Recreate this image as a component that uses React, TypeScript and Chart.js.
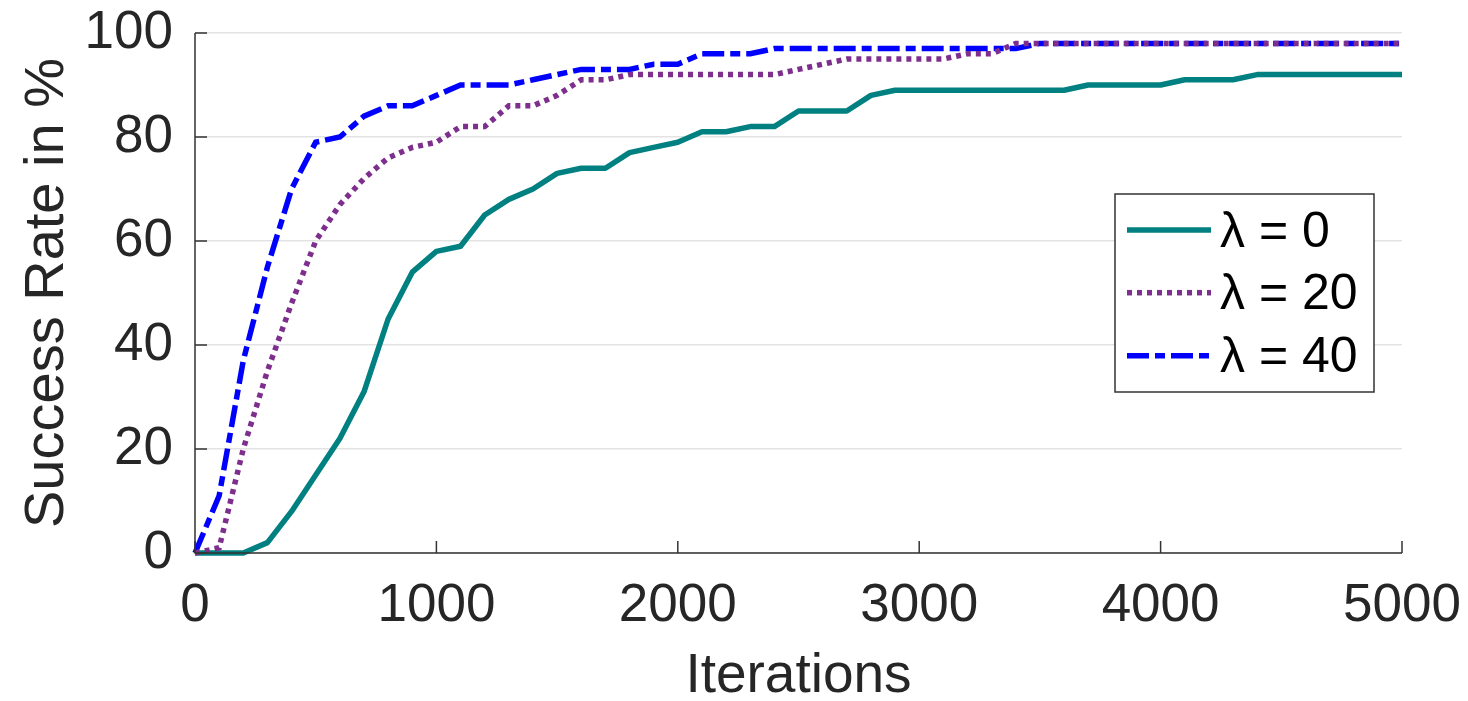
import React, { useEffect, useRef } from "react";
import { Chart, registerables } from "chart.js";

Chart.register(...registerables);

// ---- data ----
const iterations = [
  0, 100, 200, 300, 400, 500, 600, 700, 800, 900,
  1000, 1100, 1200, 1300, 1400, 1500, 1600, 1700, 1800, 1900,
  2000, 2100, 2200, 2300, 2400, 2500, 2600, 2700, 2800, 2900,
  3000, 3100, 3200, 3300, 3400, 3500, 3600, 3700, 3800, 3900,
  4000, 4100, 4200, 4300, 4400, 4500, 4600, 4700, 4800, 4900,
  5000,
];

const successLambda0 = [
  0, 0, 0, 2, 8, 15, 22, 31, 45, 54,
  58, 59, 65, 68, 70, 73, 74, 74, 77, 78,
  79, 81, 81, 82, 82, 85, 85, 85, 88, 89,
  89, 89, 89, 89, 89, 89, 89, 90, 90, 90,
  90, 91, 91, 91, 92, 92, 92, 92, 92, 92,
  92,
];

const successLambda20 = [
  0, 1, 20, 35, 48, 60, 67, 72, 76, 78,
  79, 82, 82, 86, 86, 88, 91, 91, 92, 92,
  92, 92, 92, 92, 92, 93, 94, 95, 95, 95,
  95, 95, 96, 96, 98, 98, 98, 98, 98, 98,
  98, 98, 98, 98, 98, 98, 98, 98, 98, 98,
  98,
];

const successLambda40 = [
  0, 11, 37, 55, 70, 79, 80, 84, 86, 86,
  88, 90, 90, 90, 91, 92, 93, 93, 93, 94,
  94, 96, 96, 96, 97, 97, 97, 97, 97, 97,
  97, 97, 97, 97, 97, 98, 98, 98, 98, 98,
  98, 98, 98, 98, 98, 98, 98, 98, 98, 98,
  98,
];

const seriesLabels = ["λ = 0", "λ = 20", "λ = 40"];
const xTickValues = [0, 1000, 2000, 3000, 4000, 5000];
const yTickValues = [0, 20, 40, 60, 80, 100];
const xAxisTitle = "Iterations";
const yAxisTitle = "Success Rate in %";

const FONT = "'Liberation Sans', Arial, Helvetica, sans-serif";
const TEXT = "#262626";

const axesPlugin = {
  id: "matlabAxes",
  afterDatasetsDraw(chart: any) {
    const { ctx, chartArea, scales } = chart;
    const xs = scales.x;
    const ys = scales.y;
    ctx.save();
    ctx.strokeStyle = "#333333";
    ctx.lineWidth = 1.5;
    ctx.beginPath();
    ctx.moveTo(chartArea.left, chartArea.top);
    ctx.lineTo(chartArea.left, chartArea.bottom);
    ctx.lineTo(chartArea.right, chartArea.bottom);
    ctx.stroke();
    const tl = 12;
    xs.ticks.forEach((t: any) => {
      const px = xs.getPixelForValue(t.value);
      ctx.beginPath();
      ctx.moveTo(px, chartArea.bottom);
      ctx.lineTo(px, chartArea.bottom - tl);
      ctx.stroke();
    });
    ys.ticks.forEach((t: any) => {
      const py = ys.getPixelForValue(t.value);
      ctx.beginPath();
      ctx.moveTo(chartArea.left, py);
      ctx.lineTo(chartArea.left + tl, py);
      ctx.stroke();
    });
    ctx.restore();
  },
};

const legendPlugin = {
  id: "boxLegend",
  afterDraw(chart: any) {
    const { ctx, chartArea } = chart;
    const w = 259;
    const h = 198;
    const left = chartArea.right - 28 - w;
    const top = chartArea.top + 161;
    ctx.save();
    ctx.fillStyle = "#ffffff";
    ctx.fillRect(left, top, w, h);
    ctx.strokeStyle = "#333333";
    ctx.lineWidth = 1.5;
    ctx.strokeRect(left, top, w, h);
    const rowOffsets = [36, 98.7, 161.7];
    chart.data.datasets.forEach((ds: any, i: number) => {
      const y = top + rowOffsets[i];
      ctx.beginPath();
      ctx.strokeStyle = ds.borderColor;
      ctx.lineWidth = ds.borderWidth;
      ctx.lineCap = "butt";
      ctx.setLineDash(ds.borderDash || []);
      ctx.moveTo(left + 12, y);
      ctx.lineTo(left + 96, y);
      ctx.stroke();
      ctx.setLineDash([]);
      ctx.fillStyle = "#000000";
      ctx.font = `50px ${FONT}`;
      ctx.textBaseline = "middle";
      ctx.textAlign = "left";
      ctx.fillText(ds.label, left + 105, y + 3);
    });
    ctx.restore();
  },
};

export default function App() {
  const canvasRef = useRef<HTMLCanvasElement | null>(null);

  useEffect(() => {
    const canvas = canvasRef.current;
    if (!canvas) return;
    const mk = (ys: number[]) => iterations.map((x, i) => ({ x, y: ys[i] }));
    const chart = new Chart(canvas, {
      type: "line",
      data: {
        datasets: [
          {
            label: seriesLabels[0],
            data: mk(successLambda0),
            borderColor: "#008080",
            borderWidth: 5.5,
            borderDash: [],
            pointRadius: 0,
            borderJoinStyle: "round",
            clip: false,
            order: 3,
          },
          {
            label: seriesLabels[1],
            data: mk(successLambda20),
            borderColor: "#7E2F8E",
            borderWidth: 5.5,
            borderDash: [5, 5],
            pointRadius: 0,
            clip: false,
            order: 1,
          },
          {
            label: seriesLabels[2],
            data: mk(successLambda40),
            borderColor: "#0000FF",
            borderWidth: 5.5,
            borderDash: [22, 6, 10, 6],
            pointRadius: 0,
            clip: false,
            order: 2,
          },
        ] as any,
      },
      options: {
        animation: false,
        responsive: false,
        devicePixelRatio: 1,
        layout: { padding: { top: 33, right: 66, left: 0, bottom: 0 } },
        plugins: { legend: { display: false }, tooltip: { enabled: false } },
        scales: {
          x: {
            type: "linear",
            min: 0,
            max: 5000,
            afterBuildTicks: (scale: any) => {
              scale.ticks = xTickValues.map((v) => ({ value: v }));
            },
            afterFit: (scale: any) => {
              scale.height = 148;
            },
            grid: {
              display: true,
              drawOnChartArea: false,
              drawTicks: true,
              tickLength: 22,
              tickColor: "rgba(0,0,0,0)",
            },
            border: { display: false },
            ticks: {
              padding: 0,
              color: TEXT,
              font: { family: FONT, size: 53, lineHeight: 1.2 },
              maxRotation: 0,
              callback: (v: any) => String(v),
            },
            title: {
              display: true,
              text: xAxisTitle,
              color: TEXT,
              font: { family: FONT, size: 55, lineHeight: 0.8 },
              padding: { top: 0, bottom: 2 },
            },
          },
          y: {
            type: "linear",
            min: 0,
            max: 100,
            afterBuildTicks: (scale: any) => {
              scale.ticks = yTickValues.map((v) => ({ value: v }));
            },
            afterFit: (scale: any) => {
              scale.width = 195;
            },
            grid: {
              color: "#e3e3e3",
              lineWidth: 1.5,
              drawTicks: true,
              tickLength: 22,
              tickColor: "rgba(0,0,0,0)",
            },
            border: { display: false },
            ticks: {
              padding: 0,
              color: TEXT,
              font: { family: FONT, size: 53, lineHeight: 1.2 },
              callback: (v: any) => String(v),
            },
            title: {
              display: true,
              text: yAxisTitle,
              color: TEXT,
              font: { family: FONT, size: 56, lineHeight: 0.8 },
              padding: { top: 25, bottom: 0 },
            },
          },
        },
      } as any,
      plugins: [axesPlugin, legendPlugin],
    });
    return () => chart.destroy();
  }, []);

  return (
    <div style={{ position: "absolute", left: 0, top: 0, width: 1468, height: 701, background: "#fff" }}>
      <canvas ref={canvasRef} width={1468} height={701} style={{ display: "block", width: 1468, height: 701 }} />
    </div>
  );
}
